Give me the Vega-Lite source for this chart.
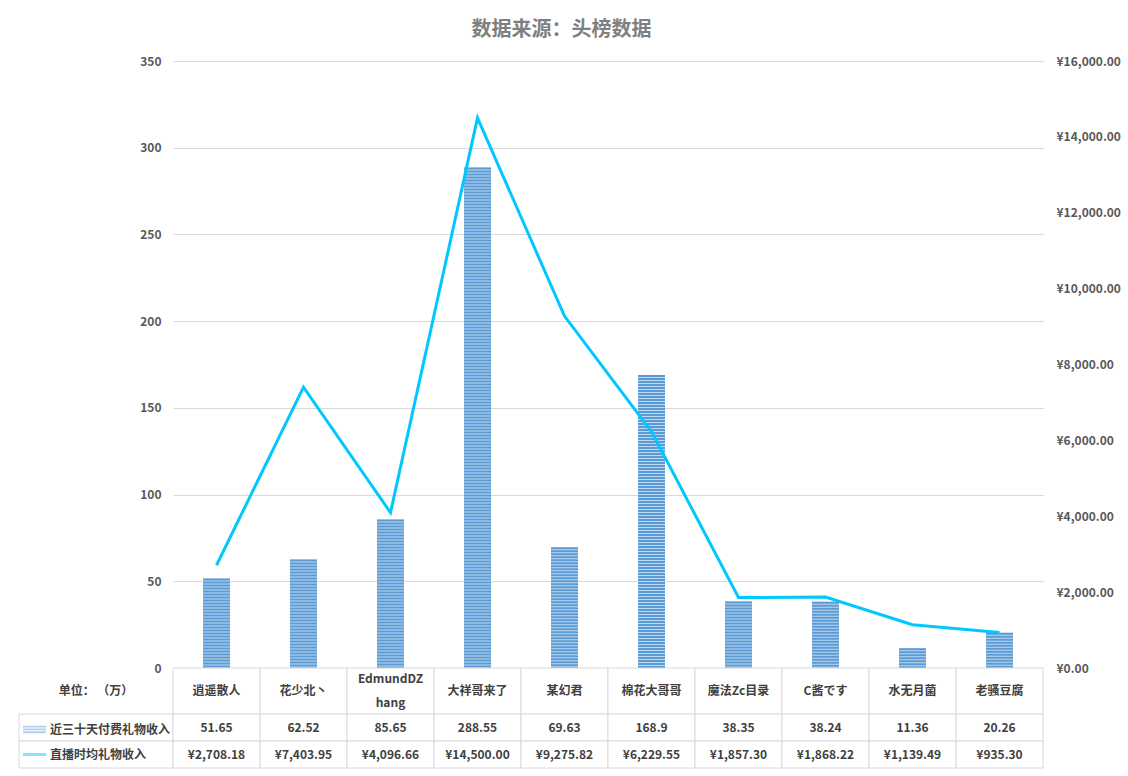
{
  "$schema": "https://vega.github.io/schema/vega-lite/v6.json",
  "background": "white",
  "padding": {"left": 18, "top": 20, "right": 5, "bottom": 5},
  "title": {
    "text": "数据来源：头榜数据",
    "fontSize": 20,
    "fontWeight": "bold",
    "font": "Noto Sans CJK SC",
    "color": "#7f7f7f",
    "anchor": "middle",
    "frame": "bounds",
    "dx": -8,
    "offset": 15
  },
  "config": {
    "view": {"stroke": null},
    "font": "Noto Sans CJK SC",
    "locale": {
      "number": {"decimal": ".", "thousands": ",", "grouping": [3], "currency": ["¥", ""]}
    },
    "axis": {
      "labelFont": "Noto Sans CJK SC",
      "labelFontSize": 12,
      "labelFontWeight": "bold",
      "labelColor": "#595959"
    },
    "legend": {
      "labelFont": "Noto Sans CJK SC",
      "labelFontSize": 12,
      "labelFontWeight": "bold",
      "labelColor": "#404040"
    }
  },
  "datasets": {
    "main": [
      {"name": "逍遥散人", "gift30": 51.65, "hourly": 2708.18},
      {"name": "花少北丶", "gift30": 62.52, "hourly": 7403.95},
      {"name": "EdmundDZ\nhang", "gift30": 85.65, "hourly": 4096.66},
      {"name": "大祥哥来了", "gift30": 288.55, "hourly": 14500.00},
      {"name": "某幻君", "gift30": 69.63, "hourly": 9275.82},
      {"name": "棉花大哥哥", "gift30": 168.9, "hourly": 6229.55},
      {"name": "魔法Zc目录", "gift30": 38.35, "hourly": 1857.30},
      {"name": "C酱です", "gift30": 38.24, "hourly": 1868.22},
      {"name": "水无月菌", "gift30": 11.36, "hourly": 1139.49},
      {"name": "老骚豆腐", "gift30": 20.26, "hourly": 935.30}
    ]
  },
  "columns": 2,
  "spacing": 0,
  "bounds": "flush",
  "resolve": {"scale": {"x": "independent", "y": "independent", "color": "independent", "shape": "independent"}},
  "concat": [
    {
      "width": 154,
      "height": 607,
      "data": {"values": [{"t": ""}]},
      "mark": {"type": "text"},
      "encoding": {"text": {"field": "t"}}
    },
    {
      "width": 870,
      "height": 607,
      "data": {"name": "main"},
      "encoding": {
        "x": {"field": "name", "type": "nominal", "sort": null, "axis": null,
              "scale": {"paddingInner": 0, "paddingOuter": 0}}
      },
      "layer": [
        {
          "layer": [
            {
              "mark": {"type": "bar", "width": {"band": 0.31}, "color": "#bdd7ee"},
              "encoding": {
                "y": {"field": "gift30", "type": "quantitative",
                      "scale": {"domain": [0, 350], "nice": false},
                      "axis": {"title": null, "values": [0, 50, 100, 150, 200, 250, 300, 350],
                               "grid": true, "gridColor": "#d9d9d9", "domain": false, "ticks": false,
                               "labelPadding": 12}}
              }
            },
            {
              "mark": {"type": "rule", "strokeWidth": 27, "strokeDash": [2, 1], "color": "#5b9bd5", "strokeCap": "butt"},
              "encoding": {
                "y": {"field": "gift30", "type": "quantitative"},
                "y2": {"datum": 0}
              }
            }
          ]
        },
        {
          "mark": {"type": "line", "color": "#00c8ff", "strokeWidth": 3},
          "encoding": {
            "y": {"field": "hourly", "type": "quantitative",
                  "scale": {"domain": [0, 16000], "nice": false},
                  "axis": {"title": null, "orient": "right",
                           "values": [0, 2000, 4000, 6000, 8000, 10000, 12000, 14000, 16000],
                           "format": "$,.2f", "grid": false, "domain": false, "ticks": false,
                           "labelPadding": 13}}
          }
        }
      ],
      "resolve": {"scale": {"y": "independent"}}
    },
    {
      "width": 154,
      "height": 46,
      "data": {"values": [{"t": "单位：  （万）"}]},
      "mark": {"type": "text", "fontSize": 12, "fontWeight": "bold", "color": "#404040"},
      "encoding": {"text": {"field": "t"}}
    },
    {
      "width": 870,
      "height": 46,
      "data": {"name": "main"},
      "encoding": {
        "x": {"field": "name", "type": "nominal", "sort": null, "axis": null,
              "scale": {"paddingInner": 0, "paddingOuter": 0}}
      },
      "layer": [
        {"mark": {"type": "rect", "fill": "white", "stroke": "#d9d9d9", "strokeWidth": 1}},
        {
          "transform": [{"filter": "indexof(datum.name, '\\n') < 0"}],
          "mark": {"type": "text", "fontSize": 12, "fontWeight": "bold", "color": "#404040"},
          "encoding": {"text": {"field": "name"}}
        },
        {
          "transform": [{"filter": "indexof(datum.name, '\\n') >= 0"}],
          "mark": {"type": "text", "lineBreak": "\n", "lineHeight": 24, "dy": -12, "fontSize": 12, "fontWeight": "bold", "color": "#404040"},
          "encoding": {"text": {"field": "name"}}
        }
      ]
    },
    {
      "width": 154,
      "height": 54,
      "data": {"values": [{"series": "近三十天付费礼物收入"}, {"series": "直播时均礼物收入"}]},
      "encoding": {
        "y": {"field": "series", "type": "nominal", "sort": null, "axis": null,
              "scale": {"paddingInner": 0, "paddingOuter": 0}}
      },
      "layer": [
        {"mark": {"type": "rect", "fill": "white", "stroke": "#d9d9d9", "strokeWidth": 1}},
        {
          "mark": {"type": "point", "filled": true, "size": 0},
          "encoding": {
            "color": {"field": "series", "type": "nominal", "sort": null,
                      "scale": {"range": ["#5b9bd5", "#00c8ff"]},
                      "legend": {"title": null, "orient": "top-left", "offset": 4, "symbolSize": 529,
                                 "symbolOpacity": 1, "symbolStrokeWidth": 0, "labelOffset": 4,
                                 "rowPadding": 7, "labelLimit": 200}},
            "shape": {"field": "series", "type": "nominal", "sort": null,
                      "scale": {"range": ["M-1,-0.32H1V-0.17H-1Z M-1,-0.09H1V0.07H-1Z M-1,0.15H1V0.32H-1Z", "M-1,-0.13H1V0.13H-1Z"]}}
          }
        }
      ]
    },
    {
      "width": 870,
      "height": 54,
      "data": {"name": "main"},
      "transform": [{"fold": ["gift30", "hourly"], "as": ["key", "value"]}],
      "encoding": {
        "x": {"field": "name", "type": "nominal", "sort": null, "axis": null,
              "scale": {"paddingInner": 0, "paddingOuter": 0}},
        "y": {"field": "key", "type": "nominal", "axis": null,
              "scale": {"domain": ["gift30", "hourly"], "paddingInner": 0, "paddingOuter": 0}}
      },
      "layer": [
        {"mark": {"type": "rect", "fill": "white", "stroke": "#d9d9d9", "strokeWidth": 1}},
        {
          "transform": [{"filter": "datum.key === 'gift30'"}],
          "mark": {"type": "text", "fontSize": 12, "fontWeight": "bold", "color": "#404040"},
          "encoding": {"text": {"field": "value", "type": "nominal"}}
        },
        {
          "transform": [{"filter": "datum.key === 'hourly'"}],
          "mark": {"type": "text", "fontSize": 12, "fontWeight": "bold", "color": "#404040"},
          "encoding": {"text": {"field": "value", "type": "quantitative", "format": "$,.2f"}}
        }
      ]
    }
  ]
}
